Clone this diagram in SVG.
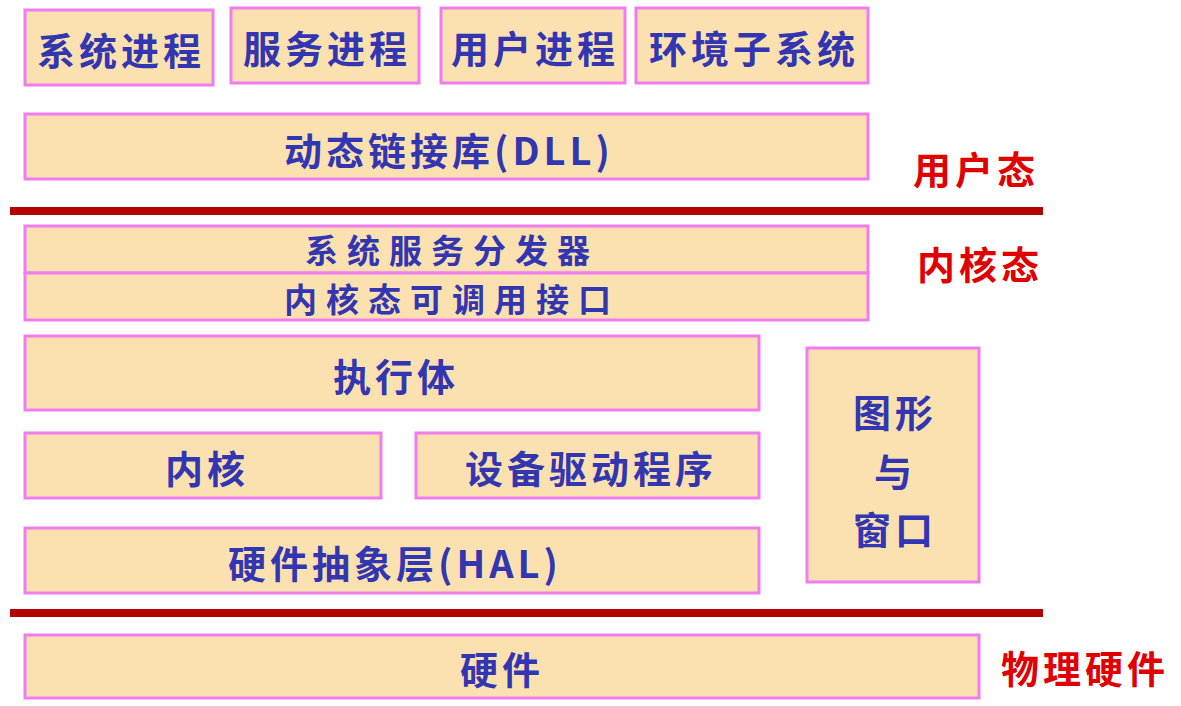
<svg xmlns="http://www.w3.org/2000/svg" width="1181" height="706" viewBox="0 0 1181 706">
<style>
.b{fill:#fce1b0;stroke:#f07cf0;stroke-width:3}
.t{font-family:"Noto Sans CJK SC","Noto Sans",sans-serif;font-size:38px;font-weight:bold;fill:#3236b0;text-anchor:middle;dominant-baseline:central;letter-spacing:4px}
.s{font-size:33px;letter-spacing:9px}
.r{font-family:"Noto Sans CJK SC","Noto Sans",sans-serif;font-size:38px;font-weight:bold;fill:#e00000;text-anchor:middle;dominant-baseline:central;letter-spacing:4px}
.sep{stroke:#b40000;stroke-width:8}
</style>
<rect width="1181" height="706" fill="#ffffff"/>
<g id="connectors">
<line class="sep" x1="10" y1="211" x2="1043" y2="211"/>
<line class="sep" x1="10" y1="613" x2="1043" y2="613"/>
</g>
<g id="n-sys"><rect class="b" x="25" y="10" width="188" height="75"/><text class="t" x="121" y="48">系统进程</text></g>
<g id="n-svc"><rect class="b" x="231" y="8" width="188" height="75"/><text class="t" x="327" y="46">服务进程</text></g>
<g id="n-user"><rect class="b" x="441" y="8" width="184" height="75"/><text class="t" x="535" y="46">用户进程</text></g>
<g id="n-env"><rect class="b" x="636" y="8" width="232" height="75"/><text class="t" x="754" y="46">环境子系统</text></g>
<g id="n-dll"><rect class="b" x="25" y="114" width="843" height="65"/><text class="t" x="449" y="148" letter-spacing="2">动态链接库(DLL)</text></g>
<g id="n-disp"><rect class="b" x="25" y="226" width="843" height="47"/><text class="t s" x="452" y="249">系统服务分发器</text></g>
<g id="n-iface"><rect class="b" x="25" y="273" width="843" height="47"/><text class="t s" x="452" y="298">内核态可调用接口</text></g>
<g id="n-exec"><rect class="b" x="25" y="336" width="734" height="74"/><text class="t" x="396" y="374">执行体</text></g>
<g id="n-kernel"><rect class="b" x="25" y="433" width="356" height="65"/><text class="t" x="207" y="466">内核</text></g>
<g id="n-drv"><rect class="b" x="416" y="433" width="343" height="65"/><text class="t" x="591" y="466">设备驱动程序</text></g>
<g id="n-hal"><rect class="b" x="25" y="528" width="734" height="65"/><text class="t" x="395" y="561" letter-spacing="2">硬件抽象层(HAL)</text></g>
<g id="n-gui"><rect class="b" x="807" y="348" width="172" height="234"/>
<text class="t" x="895" y="410">图形</text><text class="t" x="895" y="469">与</text><text class="t" x="895" y="527">窗口</text></g>
<g id="n-hw"><rect class="b" x="25" y="635" width="954" height="63"/><text class="t" x="502" y="667">硬件</text></g>
<g id="labels">
<text class="r" x="976" y="167">用户态</text>
<text class="r" x="980" y="262">内核态</text>
<text class="r" x="1085" y="666">物理硬件</text>
</g>
</svg>
